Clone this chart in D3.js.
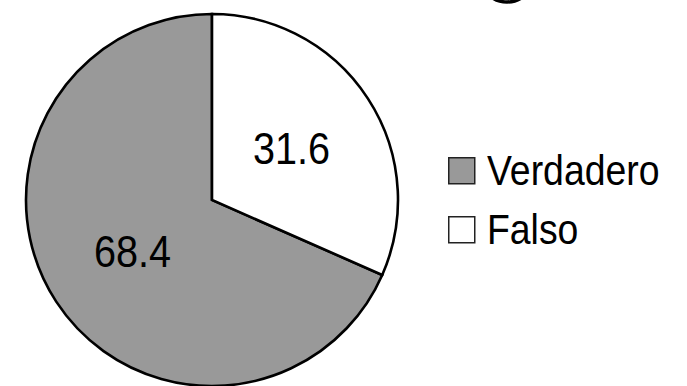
<!DOCTYPE html>
<html>
<head>
<meta charset="utf-8">
<script src="https://cdn.jsdelivr.net/npm/d3@7"></script>
<style>
  html, body { margin: 0; padding: 0; background: #fff; }
  svg { display: block; }
  text { font-family: "Liberation Sans", Arial, sans-serif; fill: #000; }
</style>
</head>
<body>
<script>
// Answer shares (percent)
const categories = ["Verdadero", "Falso"];
const values = [68.4, 31.6];
const labels = ["68.4", "31.6"];
const colors = ["#999999", "#ffffff"];

const W = 687, H = 386;
const cx = 212, cy = 200, R = 186;

const svg = d3.select("body").append("svg")
  .attr("width", W).attr("height", H);

// Small dark mark at the top edge
svg.append("ellipse")
  .attr("cx", 507).attr("cy", -13)
  .attr("rx", 21).attr("ry", 15)
  .attr("fill", "none").attr("stroke", "#000").attr("stroke-width", 3.5);

const total = d3.sum(values);
// Falso occupies the wedge clockwise from 12 o'clock; Verdadero follows it.
const start = 2 * Math.PI * values[1] / total;
const pie = d3.pie().sort(null).value(d => d.value)
  .startAngle(start).endAngle(start + 2 * Math.PI);

const data = categories.map((c, i) => ({ name: c, value: values[i], label: labels[i], color: colors[i] }));
const arcs = pie(data);

const arc = d3.arc().innerRadius(0).outerRadius(R);
const labelArc = d3.arc().innerRadius(R * 0.51).outerRadius(R * 0.51);

const g = svg.append("g").attr("transform", `translate(${cx},${cy})`);

g.selectAll("path.slice").data(arcs).join("path")
  .attr("class", "slice")
  .attr("d", arc)
  .attr("fill", d => d.data.color)
  .attr("stroke", "#000")
  .attr("stroke-width", 2.6)
  .attr("stroke-linejoin", "miter");

// Value labels at the wedge centroids
g.selectAll("text.val").data(arcs).join("text")
  .attr("class", "val")
  .attr("transform", d => {
    const [x, y] = labelArc.centroid(d);
    return `translate(${x},${y + 15.5}) scale(0.9,1)`;
  })
  .attr("text-anchor", "middle")
  .attr("font-size", 44)
  .text(d => d.data.label);

// Legend
const legend = svg.append("g").attr("transform", "translate(448,157)");
const rowH = 59;
const item = legend.selectAll("g").data(data).join("g")
  .attr("transform", (d, i) => `translate(0,${i * rowH})`);

item.append("rect")
  .attr("x", 0.75).attr("y", 0.75)
  .attr("width", 26).attr("height", 26)
  .attr("fill", d => d.color)
  .attr("stroke", "#222").attr("stroke-width", 1.5);

item.append("text")
  .attr("transform", "translate(39,28) scale(0.89,1)")
  .attr("font-size", 42)
  .text(d => d.name);
</script>
</body>
</html>
